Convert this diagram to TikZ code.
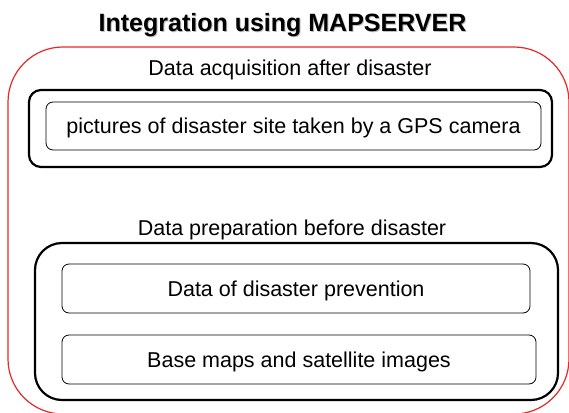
\documentclass[tikz,border=0pt]{standalone}
\usepackage{fontspec}
\setmainfont{Liberation Sans}
\usepackage{tikz}
\definecolor{framered}{RGB}{232,40,40}
\tikzset{
  txt/.style={font=\fontsize{21.5}{25}\selectfont, inner sep=0pt, text depth=0pt},
  groupbox/.style={draw, line width=2.2pt, rounded corners=#1, inner sep=0pt},
  itembox/.style={draw, line width=0.8pt, rounded corners=7pt, inner sep=0pt, txt}
}

\begin{document}
\begin{tikzpicture}[x=1pt, y=-1pt]
        \useasboundingbox (0,0) rectangle (569,412);
        \clip (0,0) rectangle (569,412);
        % heading
        \node[font=\bfseries\fontsize{25}{30}\selectfont, text depth=0pt, text=black!25] (headshadow) at (283.5,23.5) {Integration using MAPSERVER};
        \node[font=\bfseries\fontsize{25}{30}\selectfont, text depth=0pt] (head) at (282.5,22.5) {Integration using MAPSERVER};
        % red frame
        \draw[framered, line width=1.2pt, rounded corners=55pt] (8,47) rectangle (569,414);
        % after disaster
        \node[txt] (acqlabel) at (290,67.5) {Data acquisition after disaster};
        \node[groupbox=12pt, minimum width=523pt, minimum height=77pt] (acq) at (290.5,128.5) {};
        \node[itembox, minimum width=495pt, minimum height=48pt] (photos) at (293.5,126) {pictures of disaster site taken by a GPS camera};
        % before disaster
        \node[txt] (preplabel) at (292,228) {Data preparation before disaster};
        \node[groupbox=27pt, minimum width=523pt, minimum height=157pt] (prep) at (296.5,321.5) {};
        \node[itembox, minimum width=468pt, minimum height=49pt] (prevent) at (296,288.5) {Data of disaster prevention};
        \node[itembox, minimum width=474pt, minimum height=49pt] (basemaps) at (299,359.5) {Base maps and satellite images};
    \end{tikzpicture}
\end{document}
